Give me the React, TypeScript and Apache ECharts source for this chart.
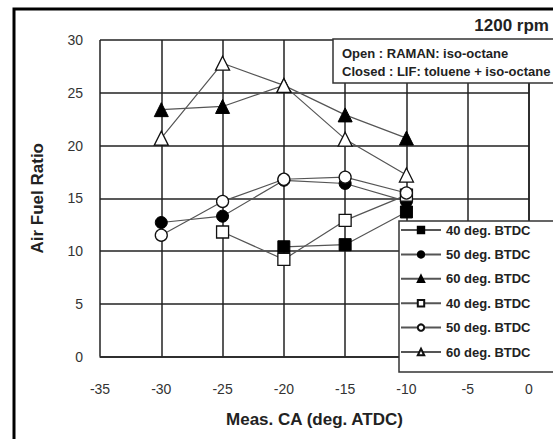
import React, { useEffect, useRef } from "react";
import * as echarts from "echarts";

const xValues = [-30, -25, -20, -15, -10];
const closed40 = [null, null, 10.4, 10.6, 13.7];
const closed50 = [12.7, 13.3, 16.7, 16.4, 14.7];
const closed60 = [23.4, 23.7, 25.7, 22.9, 20.7];
const open40 = [null, 11.8, 9.2, 12.9, 15.3];
const open50 = [11.5, 14.7, 16.8, 17.0, 15.5];
const open60 = [20.7, 27.8, 25.7, 20.6, 17.2];
const xTicks = { min: -35, max: 0, interval: 5 };
const yTicks = { min: 0, max: 30, interval: 5 };

const seriesDefs = [
  { key: "c40", label: "40 deg. BTDC", symbol: "rect", filled: true, size: 12, values: closed40 },
  { key: "c50", label: "50 deg. BTDC", symbol: "circle", filled: true, size: 12, values: closed50 },
  { key: "c60", label: "60 deg. BTDC", symbol: "triangle", filled: true, size: 14, values: closed60 },
  { key: "o40", label: "40 deg. BTDC", symbol: "rect", filled: false, size: 12, values: open40 },
  { key: "o50", label: "50 deg. BTDC", symbol: "circle", filled: false, size: 12, values: open50 },
  { key: "o60", label: "60 deg. BTDC", symbol: "triangle", filled: false, size: 14, values: open60 },
];

const FONT = "'Liberation Sans', Arial, sans-serif";

export default function App() {
  const ref = useRef<HTMLDivElement>(null);
  useEffect(() => {
    if (!ref.current) return;
    const chart = echarts.init(ref.current, null, { renderer: "svg" });
    const labelMap: Record<string, string> = {};
    seriesDefs.forEach((s) => (labelMap[s.key] = s.label));
    const series = seriesDefs.map((s) => ({
      name: s.key,
      type: "line",
      data: xValues
        .map((x, i) => [x, s.values[i]])
        .filter((p) => p[1] !== null),
      symbol: s.symbol,
      symbolSize: s.size,
      showSymbol: true,
      lineStyle: { color: "#555", width: 1.2 },
      itemStyle: s.filled
        ? { color: "#000", borderColor: "#000", borderWidth: 1 }
        : { color: "#fff", borderColor: "#111", borderWidth: 1.3 },
      emphasis: { disabled: true },
      z: 2,
    }));
    chart.setOption({
      animation: false,
      backgroundColor: "#fff",
      textStyle: { fontFamily: FONT },
      grid: { left: 100, right: 24, top: 40, bottom: 82.5, containLabel: false },
      xAxis: {
        type: "value",
        min: xTicks.min,
        max: xTicks.max,
        interval: xTicks.interval,
        name: "Meas. CA (deg. ATDC)",
        nameLocation: "middle",
        nameGap: 54,
        nameTextStyle: { fontSize: 17, fontWeight: "bold", color: "#222", fontFamily: FONT },
        axisLine: { show: true, lineStyle: { color: "#222", width: 1.5 } },
        axisTick: { show: false },
        axisLabel: { fontSize: 14, color: "#333", margin: 25, fontFamily: FONT },
        splitLine: { show: true, lineStyle: { color: "#222", width: 1.5 } },
      },
      yAxis: {
        type: "value",
        min: yTicks.min,
        max: yTicks.max,
        interval: yTicks.interval,
        name: "Air Fuel Ratio",
        nameLocation: "middle",
        nameGap: 54,
        nameTextStyle: { fontSize: 17, fontWeight: "bold", color: "#222", fontFamily: FONT },
        axisLine: { show: true, lineStyle: { color: "#222", width: 1.5 } },
        axisTick: { show: false },
        axisLabel: { fontSize: 14, color: "#333", margin: 17, fontFamily: FONT },
        splitLine: { show: true, lineStyle: { color: "#222", width: 1.5 } },
      },
      legend: {
        orient: "vertical",
        left: 400,
        top: 223.5,
        padding: 0,
        itemWidth: 40,
        itemHeight: 8,
        itemGap: 11.4,
        data: seriesDefs.map((s) => s.key),
        formatter: (name: string) => labelMap[name],
        textStyle: { fontSize: 13, fontWeight: "bold", color: "#222", fontFamily: FONT },
        z: 10,
      },
      graphic: [
        {
          type: "rect",
          z: 5,
          shape: { x: 399, y: 221, width: 200, height: 151 },
          style: { fill: "#fff", stroke: "#333", lineWidth: 1.5 },
        },
        {
          type: "rect",
          z: 5,
          shape: { x: 333, y: 39, width: 300, height: 44 },
          style: { fill: "#fff", stroke: "#333", lineWidth: 1.5 },
        },
        {
          type: "text",
          z: 6,
          x: 342,
          y: 53,
          style: { text: "Open : RAMAN: iso-octane", font: `bold 13px ${FONT}`, fill: "#222", verticalAlign: "middle" },
        },
        {
          type: "text",
          z: 6,
          x: 342,
          y: 71,
          style: { text: "Closed : LIF: toluene + iso-octane", font: `bold 13px ${FONT}`, fill: "#222", verticalAlign: "middle" },
        },
        {
          type: "text",
          z: 6,
          x: 549,
          y: 25,
          style: { text: "1200 rpm", font: `bold 17px ${FONT}`, fill: "#222", align: "right", verticalAlign: "middle" },
        },
        {
          type: "rect",
          z: 6,
          shape: { x: 14, y: 9, width: 700, height: 600 },
          style: { fill: "none", stroke: "#000", lineWidth: 3 },
        },
      ],
      series,
    });
    return () => chart.dispose();
  }, []);
  return (
    <div
      ref={ref}
      style={{ position: "fixed", left: 0, top: 0, width: 553, height: 439 }}
    />
  );
}
